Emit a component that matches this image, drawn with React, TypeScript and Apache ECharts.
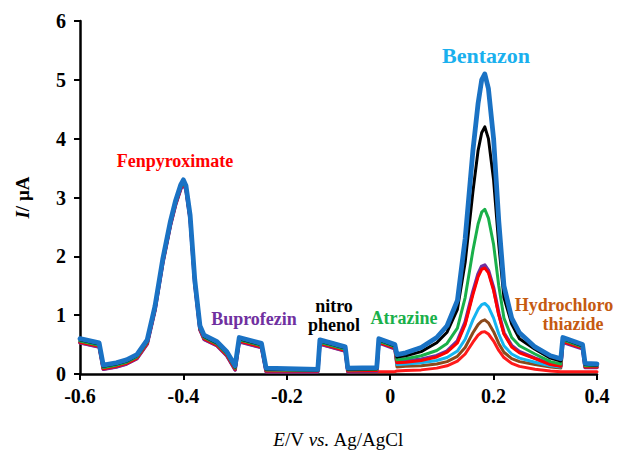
import React, { useEffect, useRef } from "react";
import * as echarts from "echarts";

// Potential axis (V vs Ag/AgCl)
const potential = [
  -0.6, -0.563, -0.555, -0.53, -0.51, -0.49, -0.47, -0.455, -0.44, -0.425,
  -0.415, -0.405, -0.4, -0.395, -0.387, -0.378, -0.368, -0.36, -0.335, -0.316,
  -0.3, -0.292, -0.249, -0.24, -0.14, -0.136, -0.087, -0.082, -0.026, -0.022,
  0.009, 0.013, 0.03, 0.06, 0.09, 0.11, 0.13, 0.145, 0.16, 0.17,
  0.177, 0.183, 0.19, 0.2, 0.21, 0.22, 0.235, 0.25, 0.28, 0.31,
  0.33, 0.334, 0.372, 0.377, 0.4,
];

// Currents (µA) for each voltammogram
const curveRedLow = [
  0.53, 0.46, 0.08, 0.12, 0.17, 0.26, 0.51, 1.08, 1.88, 2.53,
  2.88, 3.15, 3.23, 3.13, 2.63, 1.53, 0.75, 0.59, 0.48, 0.31,
  0.07, 0.55, 0.45, 0.04, 0.04, 0.51, 0.39, 0.04, 0.04, 0.04,
  0.04, 0.05, 0.06, 0.07, 0.1, 0.14, 0.22, 0.34, 0.54, 0.66,
  0.71, 0.72, 0.68, 0.56, 0.4, 0.28, 0.18, 0.13, 0.08, 0.05,
  0.04, 0.04, 0.04, 0.04, 0.04,
];
const curveBrown = [
  0.54, 0.47, 0.09, 0.13, 0.18, 0.27, 0.52, 1.09, 1.89, 2.54,
  2.89, 3.16, 3.24, 3.14, 2.64, 1.54, 0.76, 0.6, 0.49, 0.32,
  0.08, 0.56, 0.46, 0.05, 0.05, 0.52, 0.4, 0.05, 0.06, 0.54,
  0.44, 0.12, 0.13, 0.14, 0.17, 0.21, 0.3, 0.45, 0.7, 0.84,
  0.9, 0.92, 0.87, 0.72, 0.52, 0.37, 0.26, 0.21, 0.16, 0.12,
  0.1, 0.55, 0.44, 0.12, 0.12,
];
const curveCyan = [
  0.55, 0.48, 0.1, 0.14, 0.19, 0.28, 0.53, 1.1, 1.9, 2.55,
  2.9, 3.17, 3.25, 3.15, 2.65, 1.55, 0.77, 0.61, 0.5, 0.33,
  0.09, 0.57, 0.47, 0.06, 0.05, 0.53, 0.41, 0.06, 0.07, 0.55,
  0.45, 0.16, 0.17, 0.19, 0.23, 0.28, 0.39, 0.59, 0.92, 1.1,
  1.18, 1.2, 1.14, 0.95, 0.68, 0.48, 0.34, 0.27, 0.2, 0.14,
  0.12, 0.56, 0.45, 0.13, 0.13,
];
const curvePurple = [
  0.53, 0.46, 0.08, 0.12, 0.17, 0.26, 0.51, 1.08, 1.88, 2.53,
  2.88, 3.15, 3.23, 3.13, 2.63, 1.53, 0.75, 0.59, 0.48, 0.31,
  0.07, 0.55, 0.45, 0.04, 0.04, 0.51, 0.39, 0.04, 0.05, 0.53,
  0.43, 0.21, 0.22, 0.25, 0.31, 0.39, 0.56, 0.88, 1.4, 1.7,
  1.83, 1.85, 1.76, 1.46, 1.03, 0.7, 0.48, 0.38, 0.27, 0.17,
  0.14, 0.54, 0.43, 0.11, 0.11,
];
const curveRed = [
  0.54, 0.47, 0.09, 0.13, 0.18, 0.27, 0.52, 1.09, 1.89, 2.54,
  2.89, 3.16, 3.24, 3.14, 2.64, 1.54, 0.76, 0.6, 0.49, 0.32,
  0.08, 0.56, 0.46, 0.05, 0.05, 0.52, 0.4, 0.05, 0.06, 0.54,
  0.44, 0.19, 0.2, 0.23, 0.29, 0.37, 0.53, 0.84, 1.35, 1.65,
  1.78, 1.8, 1.72, 1.42, 1.0, 0.68, 0.46, 0.36, 0.26, 0.16,
  0.13, 0.55, 0.44, 0.12, 0.12,
];
const curveGreen = [
  0.56, 0.49, 0.11, 0.15, 0.2, 0.29, 0.54, 1.11, 1.91, 2.56,
  2.91, 3.18, 3.26, 3.16, 2.66, 1.56, 0.78, 0.62, 0.51, 0.34,
  0.1, 0.58, 0.48, 0.07, 0.06, 0.54, 0.42, 0.07, 0.08, 0.56,
  0.46, 0.24, 0.26, 0.31, 0.4, 0.52, 0.78, 1.3, 2.1, 2.55,
  2.75, 2.8, 2.65, 2.2, 1.5, 0.95, 0.62, 0.48, 0.34, 0.21,
  0.17, 0.58, 0.46, 0.14, 0.14,
];
const curveBlack = [
  0.58, 0.51, 0.13, 0.17, 0.22, 0.31, 0.56, 1.13, 1.93, 2.58,
  2.93, 3.2, 3.28, 3.18, 2.68, 1.58, 0.8, 0.64, 0.53, 0.36,
  0.12, 0.6, 0.5, 0.08, 0.07, 0.56, 0.44, 0.08, 0.09, 0.58,
  0.48, 0.29, 0.31, 0.38, 0.53, 0.71, 1.1, 1.9, 3.1, 3.8,
  4.1, 4.2, 4.0, 3.3, 2.2, 1.3, 0.85, 0.6, 0.42, 0.27,
  0.22, 0.6, 0.48, 0.16, 0.15,
];
const curveBlue = [
  0.6, 0.53, 0.15, 0.19, 0.24, 0.33, 0.58, 1.15, 1.95, 2.6,
  2.95, 3.22, 3.3, 3.2, 2.7, 1.6, 0.82, 0.66, 0.55, 0.38,
  0.14, 0.62, 0.52, 0.1, 0.08, 0.58, 0.46, 0.1, 0.11, 0.6,
  0.5, 0.33, 0.36, 0.45, 0.62, 0.82, 1.25, 2.3, 3.8, 4.6,
  5.0, 5.1, 4.85, 4.0, 2.6, 1.5, 0.95, 0.7, 0.46, 0.31,
  0.26, 0.62, 0.5, 0.18, 0.17,
];

const curves = [
  { values: curveRedLow, color: "#ff1a1a", width: 3 },
  { values: curveBrown, color: "#8b4a1c", width: 3 },
  { values: curveCyan, color: "#14b4f0", width: 3 },
  { values: curvePurple, color: "#7030a0", width: 3.6 },
  { values: curveRed, color: "#ff0000", width: 3 },
  { values: curveGreen, color: "#19b04a", width: 3 },
  { values: curveBlack, color: "#000000", width: 3 },
  { values: curveBlue, color: "#1a72c4", width: 4.8 },
];

const xTicks = { min: -0.6, max: 0.4, interval: 0.2 };
const yTicks = { min: 0, max: 6, interval: 1 };

const SERIF = "'Liberation Serif', 'DejaVu Serif', serif";

export default function App() {
  const ref = useRef<HTMLDivElement>(null);
  useEffect(() => {
    if (!ref.current) return;
    const chart = echarts.init(ref.current, null, { renderer: "svg" });
    const labelStyle = (color: string, size: number) => ({
      fill: color,
      font: `bold ${size}px ${SERIF}`,
      textAlign: "center",
      textVerticalAlign: "middle",
    });
    chart.setOption({
      animation: false,
      backgroundColor: "#ffffff",
      grid: { left: 80, right: 20, top: 21, bottom: 78 },
      xAxis: {
        type: "value",
        min: xTicks.min,
        max: xTicks.max,
        interval: xTicks.interval,
        splitLine: { show: false },
        axisLine: { show: true, onZero: false, lineStyle: { color: "#000", width: 2.5 } },
        axisTick: { show: true, length: 6, lineStyle: { color: "#000", width: 2 } },
        axisLabel: {
          color: "#000",
          fontFamily: SERIF,
          fontWeight: "bold",
          fontSize: 20,
          margin: 12,
        },
        name: "{i|E}/V {i|vs.} Ag/AgCl",
        nameLocation: "middle",
        nameGap: 56,
        nameTextStyle: {
          color: "#000",
          fontFamily: SERIF,
          fontSize: 19,
          rich: {
            i: { fontStyle: "italic", fontFamily: SERIF, fontSize: 19, color: "#000" },
          },
        },
      },
      yAxis: {
        type: "value",
        min: yTicks.min,
        max: yTicks.max,
        interval: yTicks.interval,
        splitLine: { show: false },
        axisLine: { show: true, onZero: false, lineStyle: { color: "#000", width: 2.5 } },
        axisTick: { show: true, length: 6, lineStyle: { color: "#000", width: 2 } },
        axisLabel: {
          color: "#000",
          fontFamily: SERIF,
          fontWeight: "bold",
          fontSize: 20,
          margin: 14,
        },
        name: "{i|I}/ µA",
        nameLocation: "middle",
        nameGap: 48,
        nameRotate: 90,
        nameTextStyle: {
          color: "#000",
          fontFamily: SERIF,
          fontWeight: "bold",
          fontSize: 19,
          rich: {
            i: { fontStyle: "italic", fontWeight: "bold", fontFamily: SERIF, fontSize: 19, color: "#000" },
          },
        },
      },
      series: curves.map((c) => ({
        type: "line",
        data: potential.map((x, i) => [x, c.values[i]]),
        showSymbol: false,
        symbol: "none",
        smooth: false,
        lineStyle: { color: c.color, width: c.width, join: "round", cap: "round" },
        emphasis: { disabled: true },
        silent: true,
      })),
      graphic: [
        { type: "text", x: 175, y: 161, style: { text: "Fenpyroximate", ...labelStyle("#ff0000", 18) } },
        { type: "text", x: 486, y: 55, style: { text: "Bentazon", ...labelStyle("#1ab0ee", 22) } },
        { type: "text", x: 254, y: 319, style: { text: "Buprofezin", ...labelStyle("#7030a0", 18) } },
        { type: "text", x: 334, y: 306, style: { text: "nitro", ...labelStyle("#000000", 18) } },
        { type: "text", x: 334, y: 325, style: { text: "phenol", ...labelStyle("#000000", 18) } },
        { type: "text", x: 404, y: 318, style: { text: "Atrazine", ...labelStyle("#19b04a", 18) } },
        { type: "text", x: 564, y: 305, style: { text: "Hydrochloro", ...labelStyle("#c55a11", 18) } },
        { type: "text", x: 573, y: 324, style: { text: "thiazide", ...labelStyle("#c55a11", 18) } },
      ],
    });
    return () => chart.dispose();
  }, []);
  return (
    <div
      ref={ref}
      style={{ position: "fixed", left: 0, top: 0, width: 617, height: 454, background: "#fff" }}
    />
  );
}
